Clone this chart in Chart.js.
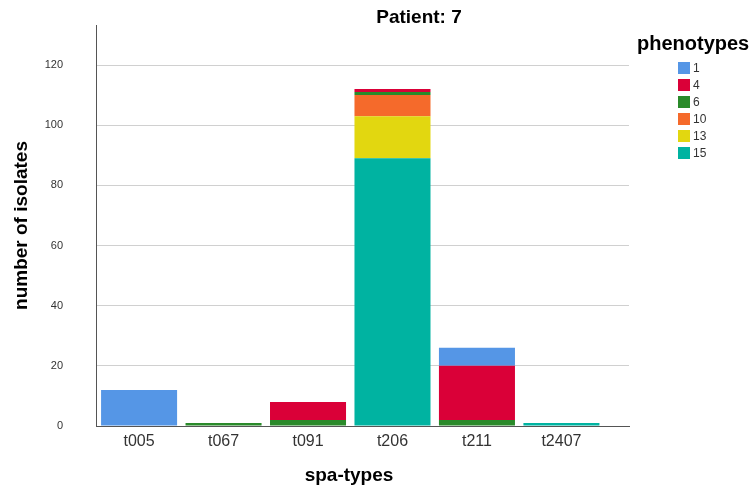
<!DOCTYPE html>
<html><head><meta charset="utf-8">
<script src="https://cdn.jsdelivr.net/npm/chart.js@4"></script>
<style>
html,body{margin:0;padding:0;background:#fff;}
#wrap{position:relative;width:751px;height:491px;font-family:"Liberation Sans",Arial,sans-serif;}
#c{position:absolute;left:0;top:0;}
#title{position:absolute;top:6px;left:319px;width:200px;text-align:center;font-weight:bold;font-size:19px;color:#000;line-height:22px;}
#xtitle{position:absolute;top:464px;left:249px;width:200px;text-align:center;font-weight:bold;font-size:19px;color:#000;line-height:22px;}
#legend{position:absolute;left:637px;top:30px;}
#legend .lt{font-weight:bold;font-size:20px;color:#000;line-height:26px;white-space:nowrap;}
#legend .it{position:relative;height:17px;margin-left:41px;font-size:12px;color:#333;line-height:17px;}
#legend .sw{position:absolute;left:0;top:2px;width:12px;height:12px;}
#legend .lb{position:absolute;left:15px;top:0;}
</style></head>
<body><div id="wrap">
<canvas id="c" width="751" height="491"></canvas>
<div id="title">Patient: 7</div>
<div id="xtitle">spa-types</div>
<div id="legend"></div>
</div>
<script>
const categories = ['t005','t067','t091','t206','t211','t2407'];
const phenotypeNames = ['1','4','6','10','13','15'];
const p1  = [12, 0, 0, 0,  6, 0];
const p4  = [ 0, 0, 6, 1, 18, 0];
const p6  = [ 0, 1, 2, 1,  2, 0];
const p10 = [ 0, 0, 0, 7,  0, 0];
const p13 = [ 0, 0, 0, 14, 0, 0];
const p15 = [ 0, 0, 0, 89, 0, 1];
const yTicks = [0,20,40,60,80,100,120];

const colors = ['#5596E6','#DA0038','#2A8A2A','#F56A2B','#E2D710','#00B3A1'];
const seriesVals = [p1,p4,p6,p10,p13,p15];

// stacking order bottom-to-top: 15,13,10,6,4,1
const datasets = [];
for (let i = seriesVals.length - 1; i >= 0; i--) {
  datasets.push({
    label: phenotypeNames[i],
    data: seriesVals[i].map((v, k) => ({ x: k, y: v })),
    backgroundColor: colors[i],
    borderWidth: 0,
    barPercentage: 0.9,
    categoryPercentage: 1.0
  });
}

// legend (HTML)
const lg = document.getElementById('legend');
let html = '<div class="lt">phenotypes</div><div style="height:4px"></div>';
phenotypeNames.forEach((n,i)=>{
  html += '<div class="it"><span class="sw" style="background:'+colors[i]+'"></span><span class="lb">'+n+'</span></div>';
});
lg.innerHTML = html;

const FONT = '"Liberation Sans", Arial, sans-serif';
new Chart(document.getElementById('c'), {
  type: 'bar',
  data: { datasets: datasets },
  options: {
    responsive: false,
    animation: false,
    layout: { padding: { left: 6, right: 122, top: 25, bottom: 1 } },
    plugins: { legend: { display: false }, title: { display: false }, tooltip: { enabled: false } },
    scales: {
      x: {
        type: 'linear',
        stacked: true,
        offset: false,
        min: -0.51, max: 5.80,
        afterBuildTicks: (axis) => { axis.ticks = categories.map((c, k) => ({ value: k })); },
        grid: { display: false, drawTicks: false },
        border: { display: true, color: '#555', width: 1 },
        ticks: { color: '#333', font: { family: FONT, size: 16 }, padding: 6, autoSkip: false, maxRotation: 0,
                 callback: (v) => categories[v] },
        title: { display: false },
        afterFit: (axis) => { axis.height = 64; axis.paddingLeft = 0; axis.paddingRight = 0; }
      },
      y: {
        stacked: true,
        min: 0, max: 133.3,
        afterBuildTicks: (axis) => { axis.ticks = yTicks.map(v => ({ value: v })); },
        grid: { color: '#d0d0d0', drawTicks: false, lineWidth: 1 },
        border: { display: true, color: '#555', width: 1 },
        ticks: { color: '#333', font: { family: FONT, size: 11 }, padding: 33 },
        title: { display: true, text: 'number of isolates', color: '#000', font: { family: FONT, size: 19, weight: 'bold' }, padding: { top: 4, bottom: 4 } },
        afterFit: (axis) => { axis.width = 90; axis.paddingTop = 0; axis.paddingBottom = 0; }
      }
    }
  }
});
</script>
</body></html>
